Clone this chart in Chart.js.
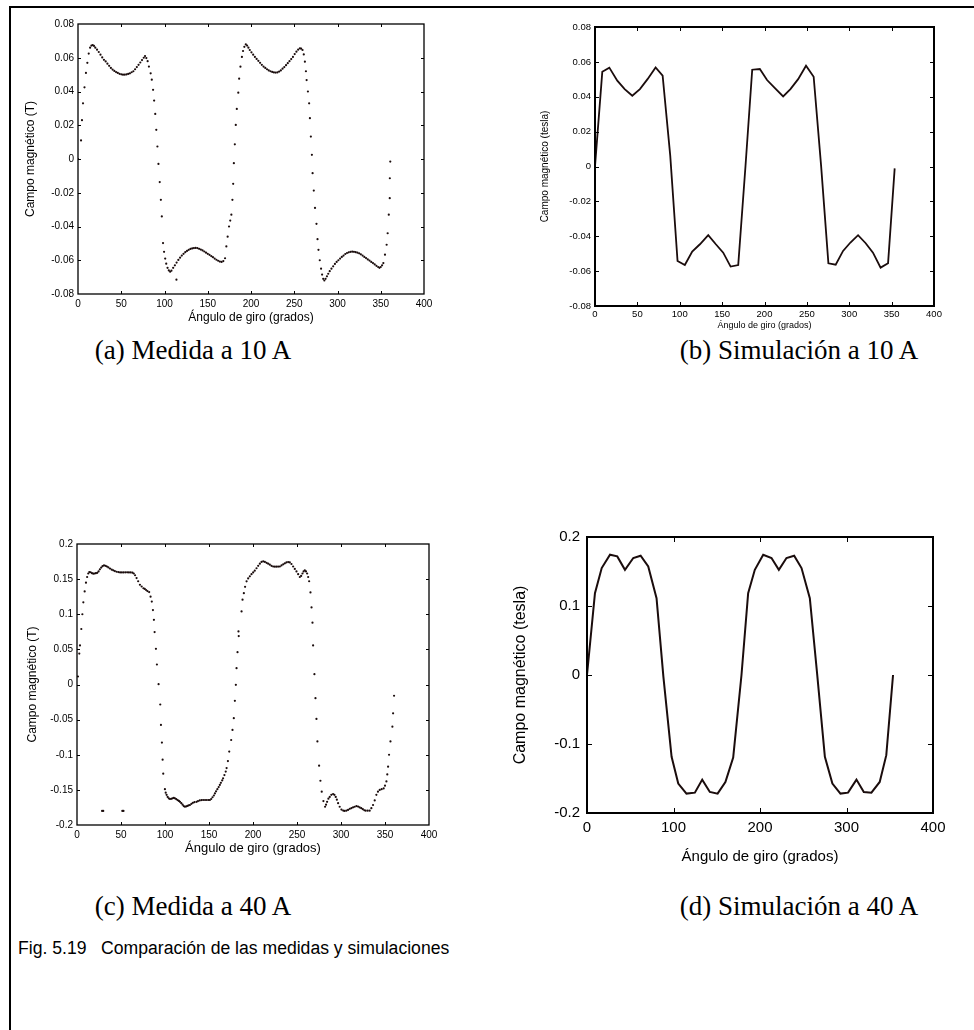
<!doctype html>
<html lang="es">
<head>
<meta charset="UTF-8"/>
<title>Fig. 5.19</title>
<script src="https://cdn.jsdelivr.net/npm/chart.js@4.4.0/dist/chart.umd.min.js"></script>
<style>
 * { margin: 0; padding: 0; }
 body { width: 974px; height: 1030px; position: relative; background: #fff; overflow: hidden; }
 #frame { position: absolute; left: 9px; top: 6px; width: 990px; height: 1050px; border-left: 2px solid #000; border-top: 2px solid #000; }
 canvas { position: absolute; }
 .cap { position: absolute; width: 300px; text-align: center; font-family: 'Liberation Serif', 'Times New Roman', serif; font-size: 27px; line-height: 30px; white-space: nowrap; color: #000; }
 #fig { position: absolute; left: 18px; top: 937px; font-family: 'Liberation Sans', Arial, sans-serif; font-size: 17.6px; line-height: 22px; white-space: nowrap; color: #000; }
</style>
</head>
<body>
<div id="frame"></div>
<canvas id="chartA" width="427" height="315" style="left:23px;top:10px"></canvas>
<canvas id="chartB" width="426" height="321" style="left:539px;top:10px"></canvas>
<canvas id="chartC" width="430" height="326" style="left:25px;top:530px"></canvas>
<canvas id="chartD" width="454" height="346" style="left:511px;top:520px"></canvas>

<div class="cap" style="left:43px;top:335px">(a) Medida a 10 A</div>
<div class="cap" style="left:649px;top:335px">(b) Simulación a 10 A</div>
<div class="cap" style="left:43px;top:891px">(c) Medida a 40 A</div>
<div class="cap" style="left:649px;top:891px">(d) Simulación a 40 A</div>
<div id="fig">Fig. 5.19&nbsp;&nbsp; Comparación de las medidas y simulaciones</div>

<script>
// [ángulo (grados), campo (T)]
const medida10 = [
 [0,0],[3.5,0.011],[4.6,0.023],[5.8,0.033],[7.5,0.0425],[9.2,0.051],[10.8,0.057],[12.4,0.0625],[14,0.066],[15.5,0.0672],
 [17,0.0675],[18.5,0.067],[20,0.066],[22,0.0648],[24,0.0634],[26,0.0618],[28,0.0602],[30,0.0588],[32,0.0578],[34,0.0565],
 [36,0.0552],[38,0.054],[40,0.053],[42,0.0522],[44,0.0515],[46,0.051],[48,0.0505],[50,0.0502],[52,0.05],[54,0.05],
 [56,0.0501],[58,0.0504],[60,0.0508],[62,0.0514],[64,0.052],[66,0.0532],[68,0.0545],[70,0.0558],[72,0.0572],[74,0.0586],
 [76,0.06],[77.5,0.061],[79,0.0598],[80.5,0.058],[82,0.0548],[84,0.0508],[85.3,0.047],[86.8,0.041],[88,0.0346],[89.3,0.0267],
 [90.5,0.0173],[91.8,0.0074],[93,-0.0029],[94.5,-0.0137],[95.8,-0.0242],[96.9,-0.034],[98.3,-0.0498],[99.5,-0.055],[100.8,-0.059],[102,-0.062],
 [103.5,-0.0645],[105,-0.066],[106.5,-0.0668],[108,-0.0662],[110,-0.0645],[112,-0.063],[113.8,-0.0715],[114,-0.0614],[116,-0.0598],[118,-0.0585],
 [120,-0.0572],[122,-0.0562],[124,-0.0552],[126,-0.0545],[128,-0.0538],[130,-0.0533],[132,-0.053],[134,-0.0528],[136,-0.0527],[138,-0.0528],
 [140,-0.0532],[142,-0.0537],[144,-0.0542],[146,-0.0548],[148,-0.0555],[150,-0.0562],[152,-0.0568],[154,-0.0575],[156,-0.0582],[158,-0.059],
 [160,-0.0597],[162,-0.0603],[164,-0.0608],[166,-0.061],[168,-0.0605],[170,-0.0588],[171.5,-0.0518],[173,-0.046],[174.6,-0.04],[176,-0.0365],
 [177.3,-0.033],[178.5,-0.0242],[179.4,-0.0147],[180.2,-0.0025],[181.3,0.0087],[182.4,0.0202],[183.6,0.0297],[185.3,0.0393],[186.3,0.0476],[187.8,0.0547],
 [189.5,0.0605],[190.8,0.064],[192.3,0.0665],[194,0.0679],[195.5,0.0672],[197,0.066],[198.6,0.0646],[200.5,0.0632],[202.5,0.0618],[204.5,0.0605],
 [206.5,0.0593],[208.5,0.0582],[210.5,0.057],[212.5,0.0558],[214.5,0.0548],[216.5,0.054],[218.5,0.0532],[220.5,0.0525],[222.5,0.052],[224.5,0.0516],
 [226.5,0.0513],[228.5,0.0512],[230.5,0.0513],[232.5,0.0518],[234.5,0.0525],[236.5,0.0535],[238.5,0.0545],[240.5,0.0556],[242.5,0.0568],[244.5,0.058],
 [246.5,0.0592],[248.5,0.0605],[250.5,0.0622],[252.5,0.0636],[254.5,0.0648],[256.5,0.0656],[258,0.0654],[259.6,0.0646],[261,0.062],[262.3,0.0577],
 [263.5,0.052],[264.3,0.0468],[265.8,0.04],[267.2,0.033],[268.1,0.0242],[269.2,0.0133],[270.4,0.0025],[271.2,-0.0084],[272.6,-0.0187],[274,-0.029],
 [275.7,-0.0384],[276.9,-0.0475],[278,-0.0538],[279.5,-0.06],[281,-0.065],[282.2,-0.0685],[283.5,-0.071],[284.8,-0.072],[286.2,-0.071],[287.8,-0.0695],
 [289.3,-0.068],[291,-0.0665],[293,-0.065],[295,-0.0636],[297,-0.0622],[299,-0.061],[301,-0.06],[303,-0.059],[305,-0.058],[307,-0.0572],
 [309,-0.0563],[311,-0.0557],[313,-0.0553],[315,-0.055],[317,-0.0549],[319,-0.055],[321,-0.0552],[323,-0.0555],[325,-0.0559],[327,-0.0565],
 [329,-0.0572],[331,-0.058],[333,-0.0587],[335,-0.0595],[337,-0.0602],[339,-0.061],[341,-0.0617],[343,-0.0625],[345,-0.0633],[347,-0.064],
 [348.5,-0.0645],[350,-0.064],[351.5,-0.063],[353,-0.0617],[354.9,-0.0567],[356.8,-0.0508],[358,-0.044],[359.3,-0.033],[360.4,-0.0232],[360.5,-0.0114],
 [361,-0.0015]
];

const simulacion10 = [
 [0,0],[8.6,0.0543],[16.9,0.0567],[26.3,0.0492],[35,0.0444],[44,0.0406],[53,0.0444],[62,0.0501],[71.5,0.0568],[79.8,0.0521],
 [88.8,0.0061],[97.4,-0.0542],[106,-0.0565],[114.7,-0.0488],[123.8,-0.0446],[133.6,-0.0394],[142.6,-0.0446],[151.3,-0.0494],[160,-0.0574],[169,-0.0565],
 [177.6,0.0004],[185.5,0.0555],[194.5,0.0559],[203,0.0496],[212.6,0.0448],[222,0.0402],[230.6,0.0444],[239.7,0.0501],[249,0.0578],[258,0.0515],
 [266.8,0.0004],[275.4,-0.0555],[284,-0.0563],[292.7,-0.0484],[301.4,-0.0436],[310.4,-0.0394],[319.4,-0.044],[328,-0.0494],[337,-0.058],[345.8,-0.0555],
 [353.6,-0.0011]
];

const medida40 = [
 [1.1,0.0114],[2.6,0.044],[3.4,0.0556],[4.9,0.079],[6.1,0.1],[7.2,0.117],[8.7,0.1325],[10.2,0.145],[11.5,0.153],[12.8,0.158],
 [14,0.16],[15.5,0.1598],[17,0.1585],[18.5,0.1577],[20,0.158],[21.5,0.1585],[23,0.159],[24.5,0.161],[26,0.164],[27.5,0.1665],
 [29,0.1685],[30.7,0.1695],[32.5,0.169],[34,0.168],[35.6,0.1667],[37.5,0.165],[39.5,0.1635],[41.2,0.1625],[43,0.1615],[45,0.1605],
 [47,0.16],[49,0.1596],[51,0.1596],[53,0.1596],[55,0.1597],[57,0.1597],[59,0.1596],[61,0.1596],[63,0.1592],[64.5,0.158],
 [66,0.1555],[67.7,0.1515],[69.5,0.147],[71.5,0.142],[73.5,0.1395],[75.5,0.137],[77,0.136],[78.5,0.1345],[80,0.133],[82,0.1316],
 [83.6,0.125],[85,0.118],[86.3,0.106],[87.4,0.092],[88.2,0.0746],[89.7,0.0508],[90.8,0.0285],[92.7,0.0005],[94.6,-0.0285],[95.4,-0.0575],
 [96.5,-0.0827],[97.3,-0.107],[98,-0.127],[99.9,-0.149],[100.8,-0.154],[101.8,-0.157],[103,-0.16],[104.3,-0.162],[105.6,-0.163],[107,-0.1628],
 [108.5,-0.162],[110,-0.1615],[111.3,-0.162],[112.8,-0.1632],[114.3,-0.1645],[115.8,-0.1658],[117,-0.167],[118.5,-0.169],[120,-0.171],[121.3,-0.173],
 [122.6,-0.174],[124,-0.1735],[125.5,-0.1728],[127,-0.172],[128.3,-0.1715],[130,-0.1698],[131.7,-0.1685],[133.5,-0.1675],[135.9,-0.167],[137.5,-0.166],
 [139.5,-0.165],[141.5,-0.1645],[143.4,-0.1644],[145.5,-0.1644],[147.5,-0.1644],[149.5,-0.1644],[151,-0.1644],[152.5,-0.163],[154,-0.1605],[155.5,-0.158],
 [156.7,-0.155],[158,-0.152],[159.5,-0.149],[161,-0.146],[162.3,-0.143],[163.5,-0.14],[165,-0.1365],[166,-0.1335],[167.5,-0.129],[169,-0.124],
 [170,-0.119],[171.5,-0.109],[173,-0.0955],[175.2,-0.079],[176.7,-0.0646],[178.2,-0.048],[179.4,-0.0233],[180.5,-0.0005],[181.3,0.0233],[182.4,0.046],
 [183.5,0.0755],[183.8,0.069],[187,0.104],[188.1,0.1207],[189.6,0.13],[191,0.139],[192.7,0.1468],[194.5,0.151],[196.4,0.154],[198.3,0.157],
 [200.2,0.1596],[202,0.162],[204,0.1655],[205.9,0.169],[207.8,0.172],[209.7,0.1745],[211.6,0.1753],[213.5,0.1745],[215.4,0.1732],[217.2,0.172],
 [219.1,0.1705],[221,0.169],[222.9,0.168],[224.8,0.1677],[226.7,0.1677],[228.6,0.1678],[230.5,0.168],[232.4,0.1695],[234.3,0.171],[236.2,0.1725],
 [238,0.1738],[240,0.1742],[241.8,0.1738],[243.7,0.1715],[245.6,0.168],[247.5,0.1645],[249.4,0.161],[251.3,0.157],[253.2,0.153],[254.7,0.1545],
 [256.2,0.158],[257.5,0.161],[258.9,0.1625],[260.2,0.161],[261.5,0.158],[262.7,0.153],[263.8,0.147],[265.3,0.131],[266.5,0.1097],[267.6,0.088],
 [268.3,0.0556],[269.8,0.0147],[271,-0.0195],[272.1,-0.049],[273.2,-0.081],[275.1,-0.1155],[276.6,-0.137],[278.1,-0.1525],[280,-0.166],[281.9,-0.174],
 [283,-0.171],[284.2,-0.167],[285.7,-0.1625],[287.2,-0.16],[289,-0.157],[291,-0.156],[292.5,-0.157],[294,-0.16],[295.3,-0.164],[296.7,-0.169],
 [298.5,-0.174],[300.5,-0.178],[302.5,-0.1795],[304,-0.18],[306,-0.1796],[308,-0.1785],[310,-0.177],[311.8,-0.176],[313.7,-0.1748],[315.6,-0.174],
 [317.5,-0.173],[319.4,-0.1738],[321.2,-0.175],[323,-0.176],[324.8,-0.1775],[326.5,-0.179],[328,-0.1796],[330.3,-0.1796],[332.6,-0.1796],[334.5,-0.176],
 [336.4,-0.1715],[338.3,-0.165],[340.2,-0.157],[342,-0.1525],[344,-0.15],[346.2,-0.149],[348.5,-0.148],[350,-0.144],[351.6,-0.138],[352.6,-0.128],
 [353.5,-0.117],[354.6,-0.1],[356.2,-0.081],[358.4,-0.06],[359.2,-0.041],[360.3,-0.016],
 [28.5,-0.18],[29.8,-0.18],[51.5,-0.18],[52.8,-0.18]
];

const simulacion40 = [
 [0,0],[9.2,0.1186],[17,0.155],[26.6,0.1743],[35,0.1719],[43.9,0.1525],[53.5,0.1695],[62,0.1729],[70.8,0.1574],[80.4,0.1114],
 [88.3,-0.0024],[97.8,-0.1186],[105.5,-0.1574],[115,-0.1719],[124.7,-0.1705],[133.2,-0.1516],[142,-0.1695],[151,-0.1719],[160,-0.155],[169,-0.1196],
 [178.6,0],[186.3,0.1186],[194,0.1525],[203.7,0.1743],[213.3,0.1695],[221.8,0.1525],[230.6,0.1695],[239.5,0.1729],[248,0.155],[257.6,0.1114],
 [266,0.0024],[275,-0.1186],[283.7,-0.1574],[293,-0.1719],[301.8,-0.1705],[311.5,-0.1516],[320,-0.1695],[328.8,-0.1705],[338.4,-0.155],[346,-0.1162],
 [353.8,0]
];

const xTitle = 'Ángulo de giro (grados)';
const FONT = "'Liberation Sans', Arial, sans-serif";
const NARROW = "'Liberation Sans Narrow', 'Liberation Sans', Arial, sans-serif";

function fmt(v) {
    if (Math.abs(v) < 1e-9) return '0';
    return parseFloat(v.toFixed(3)).toString();
}

// MATLAB style box with inward ticks on all four sides
function boxPlugin(len, width) {
    return {
        id: 'boxTicks',
        afterDraw(chart) {
            const ctx = chart.ctx, a = chart.chartArea;
            const x = chart.scales.x, y = chart.scales.y;
            ctx.save();
            ctx.strokeStyle = '#000';
            ctx.lineWidth = 1;
            ctx.beginPath();
            x.ticks.forEach(t => {
                const px = Math.round(x.getPixelForValue(t.value)) + 0.5;
                if (px < a.left + 2 || px > a.right - 2) return;
                ctx.moveTo(px, a.bottom); ctx.lineTo(px, a.bottom - len);
                ctx.moveTo(px, a.top); ctx.lineTo(px, a.top + len);
            });
            y.ticks.forEach(t => {
                const py = Math.round(y.getPixelForValue(t.value)) + 0.5;
                if (py < a.top + 2 || py > a.bottom - 2) return;
                ctx.moveTo(a.left, py); ctx.lineTo(a.left + len, py);
                ctx.moveTo(a.right, py); ctx.lineTo(a.right - len, py);
            });
            ctx.stroke();
            ctx.lineWidth = width;
            ctx.strokeRect(a.left, a.top, a.right - a.left, a.bottom - a.top);
            ctx.restore();
        }
    };
}

function makeChart(id, o) {
    const line = o.line;
    new Chart(document.getElementById(id), {
        type: 'scatter',
        data: {
            datasets: [{
                data: o.data.map(p => ({x: p[0], y: p[1]})),
                showLine: line,
                borderColor: '#1a0c0c',
                borderWidth: o.lw || 2,
                backgroundColor: '#1a0c0c',
                pointRadius: line ? 0 : 1.1,
                pointBorderWidth: 0,
                tension: 0
            }]
        },
        options: {
            responsive: false,
            animation: false,
            layout: {padding: {left: 0, top: o.top, right: o.right, bottom: 0}},
            plugins: {legend: {display: false}, tooltip: {enabled: false}},
            scales: {
                x: {
                    type: 'linear', min: 0, max: 400,
                    afterFit: s => { s.height = o.xh; },
                    grid: {display: false, drawTicks: false},
                    border: {display: false},
                    ticks: {stepSize: o.xStep, padding: o.xPad, color: '#000', maxRotation: 0, autoSkip: false,
                            font: {family: o.tickFamily, size: o.tickSize}},
                    title: {display: true, text: xTitle, color: '#000', padding: 0,
                            font: {family: FONT, size: o.xTitleSize}}
                },
                y: {
                    type: 'linear', min: o.yMin, max: o.yMax,
                    afterFit: s => { s.width = o.yw; },
                    grid: {display: false, drawTicks: false},
                    border: {display: false},
                    ticks: {stepSize: o.yStep, padding: o.yPad, color: '#000', autoSkip: false, callback: fmt,
                            font: {family: o.tickFamily, size: o.tickSize}},
                    title: {display: true, text: o.yTitle, color: '#000', padding: 0,
                            font: {family: FONT, size: o.yTitleSize}}
                }
            }
        },
        plugins: [boxPlugin(o.tickLen, o.boxWidth)]
    });
}

makeChart('chartA', {
    data: medida10, line: false, top: 14, right: 26, xh: 31, yw: 55,
    xStep: 50, yStep: 0.02, yMin: -0.08, yMax: 0.08, xPad: 4, yPad: 4,
    tickFamily: NARROW, tickSize: 10, xTitleSize: 12, yTitleSize: 12,
    yTitle: 'Campo magnético (T)', tickLen: 3, boxWidth: 1.3
});

makeChart('chartB', {
    data: simulacion10, line: true, lw: 1.8, top: 17, right: 31, xh: 25, yw: 56,
    xStep: 50, yStep: 0.02, yMin: -0.08, yMax: 0.08, xPad: 3, yPad: 4,
    tickFamily: FONT, tickSize: 9.5, xTitleSize: 9, yTitleSize: 10,
    yTitle: 'Campo magnético (tesla)', tickLen: 4, boxWidth: 2
});

makeChart('chartC', {
    data: medida40, line: false, top: 14, right: 26, xh: 31, yw: 52,
    xStep: 50, yStep: 0.05, yMin: -0.2, yMax: 0.2, xPad: 4, yPad: 4,
    tickFamily: NARROW, tickSize: 10, xTitleSize: 13, yTitleSize: 12,
    yTitle: 'Campo magnético (T)', tickLen: 3, boxWidth: 1.3
});

makeChart('chartD', {
    data: simulacion40, line: true, lw: 2, top: 17, right: 32, xh: 53, yw: 76,
    xStep: 100, yStep: 0.1, yMin: -0.2, yMax: 0.2, xPad: 6, yPad: 7,
    tickFamily: FONT, tickSize: 15, xTitleSize: 15, yTitleSize: 16,
    yTitle: 'Campo magnético (tesla)', tickLen: 5, boxWidth: 2
});
</script>
</body>
</html>
